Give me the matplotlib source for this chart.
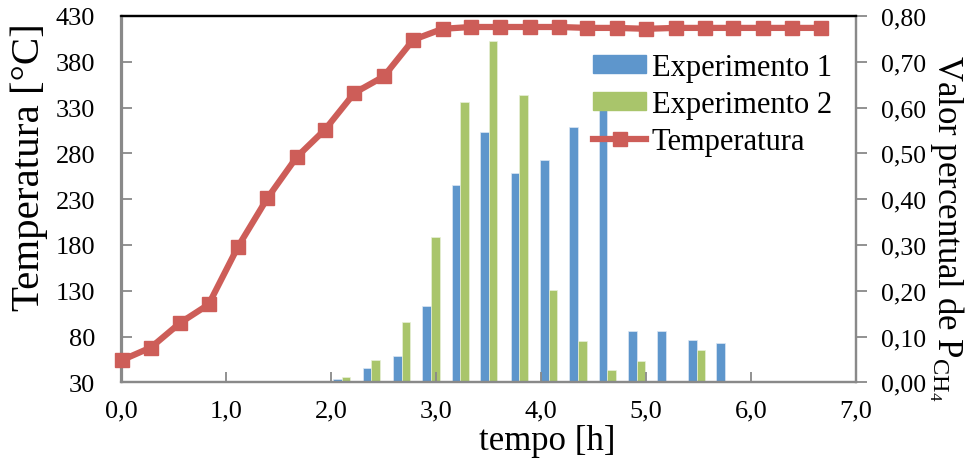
import matplotlib
matplotlib.use("Agg")
import matplotlib.pyplot as plt
from matplotlib.patches import Patch
from matplotlib.lines import Line2D

plt.rcParams['font.family'] = ['Liberation Serif', 'DejaVu Serif']
plt.rcParams['mathtext.fontset'] = 'custom'
plt.rcParams['mathtext.rm'] = 'Liberation Serif'
plt.rcParams['mathtext.it'] = 'Liberation Serif:italic'

# Temperature profile (h, °C)
temp_time = [0.00, 0.28, 0.56, 0.83, 1.11, 1.39, 1.67, 1.94, 2.22, 2.50,
             2.78, 3.06, 3.33, 3.61, 3.89, 4.17, 4.44, 4.72, 5.00, 5.28,
             5.56, 5.83, 6.11, 6.39, 6.67]
temperatura = [54, 68, 95, 115, 178, 231, 276, 306, 346, 364,
               404, 416, 418, 418, 418, 418, 417, 417, 416, 417,
               417, 417, 417, 417, 417]

# Methane fraction for both runs (h, -)
bar_time = [2.10, 2.38, 2.67, 2.95, 3.23, 3.50, 3.79, 4.07, 4.35, 4.63,
            4.91, 5.19, 5.48, 5.75]
experimento_1 = [0.007, 0.031, 0.058, 0.166, 0.431, 0.546, 0.458, 0.485,
                 0.557, 0.595, 0.113, 0.113, 0.092, 0.085]
experimento_2 = [0.011, 0.049, 0.131, 0.317, 0.612, 0.746, 0.628, 0.201,
                 0.090, 0.026, 0.047, 0.0, 0.071, 0.0]

x_ticks = [0, 1, 2, 3, 4, 5, 6, 7]
temp_ticks = [30, 80, 130, 180, 230, 280, 330, 380, 430]
frac_ticks = [0.0, 0.1, 0.2, 0.3, 0.4, 0.5, 0.6, 0.7, 0.8]

BLUE = "#5E96CC"
GREEN = "#A9C56B"
RED = "#CD5D58"
GREY = "#898989"
TICK_FONT = dict(family='Liberation Serif', size=19)
RIGHT_TICK_FONT = dict(family='Liberation Serif', size=18.5)

W, H = 969, 464
fig = plt.figure(figsize=(W / 100, H / 100), dpi=100)
ax = fig.add_axes([121.5 / W, 1 - 383.3 / H, (856 - 121.5) / W, (383.3 - 17) / H])
ax2 = ax.twinx()

bw = 0.082
ax2.bar([t - bw / 2 for t in bar_time], experimento_1, width=bw, color=BLUE,
        edgecolor="#DCE8F4", linewidth=0.5)
ax2.bar([t + bw / 2 for t in bar_time], experimento_2, width=bw, color=GREEN,
        edgecolor="#E8F0D8", linewidth=0.5)

ax.plot(temp_time, temperatura, color=RED, lw=4.5, marker='s', ms=9.5,
        clip_on=False, zorder=5)

ax.set_zorder(ax2.get_zorder() + 1)
ax.patch.set_visible(False)

ax.set_xlim(0, 7)
ax.set_ylim(30, 430)
ax2.set_ylim(0, 0.8)

ax.set_xticks(x_ticks)
ax.set_xticklabels([f"{v:.1f}".replace('.', ',') for v in x_ticks], **TICK_FONT)
ax.set_yticks(temp_ticks)
ax.set_yticklabels([str(v) for v in temp_ticks], **TICK_FONT)
ax2.set_yticks(frac_ticks)
ax2.set_yticklabels([f"{v:.2f}".replace('.', ',') for v in frac_ticks],
                    **RIGHT_TICK_FONT)

ax.tick_params(axis='x', direction='in', length=7, width=1.3, color=GREY, pad=12)
ax.tick_params(axis='y', direction='in', length=7, width=1.3, color=GREY, pad=19)
ax2.tick_params(axis='y', direction='out', length=8, width=1.3, color=GREY, pad=10)

for a in (ax, ax2):
    for side in ('left', 'right', 'bottom'):
        a.spines[side].set_color(GREY)
        a.spines[side].set_linewidth(1.6)
    a.spines['top'].set_color('black')
    a.spines['top'].set_linewidth(1.6)

fig.text(29 / W, 1 - 167 / H, "Temperatura [°C]", rotation=90,
         ha='center', va='center', fontsize=29.5)
fig.text(946 / W, 1 - 228 / H, r"Valor percentual de P$_{\mathrm{CH}_4}$",
         rotation=-90, ha='center', va='center', fontsize=25)
fig.text(547 / W, 1 - 441 / H, "tempo [h]", ha='center', va='center',
         fontsize=25)

handles = [Patch(facecolor=BLUE, edgecolor=BLUE),
           Patch(facecolor=GREEN, edgecolor=GREEN),
           Line2D([], [], color=RED, lw=4.5, marker='s', ms=9.5)]
ax.legend(handles, ["Experimento 1", "Experimento 2", "Temperatura"],
          loc='upper left', bbox_to_anchor=(593 / W, 1 - 54 / H),
          bbox_transform=fig.transFigure, frameon=False, fontsize=22,
          handlelength=1.75, handleheight=0.55, handletextpad=0.18,
          labelspacing=0.26, borderpad=0, borderaxespad=0)

fig.savefig("out.png", dpi=100)
